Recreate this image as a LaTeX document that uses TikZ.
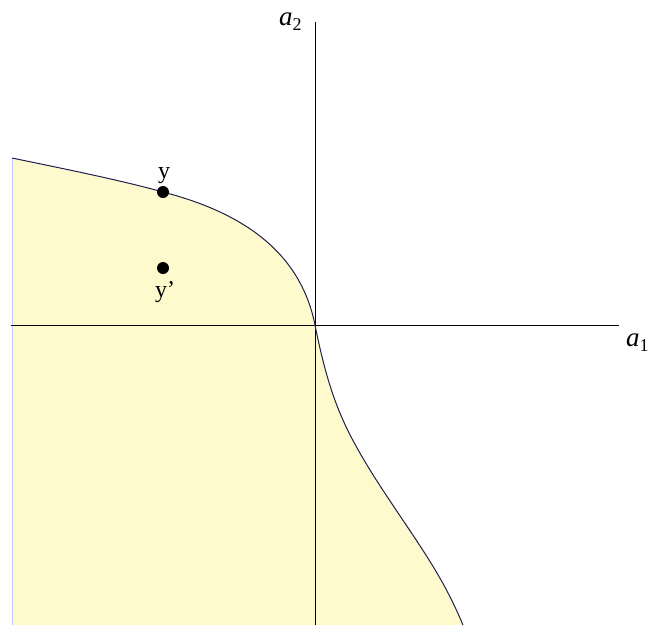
\documentclass[tikz,border=0pt]{standalone}
\usepackage{fontspec}
\setmainfont{Liberation Serif}
\definecolor{regionfill}{RGB}{255,250,205}
\definecolor{edgeblue}{RGB}{190,200,255}
\definecolor{curvenavy}{RGB}{30,30,80}
\begin{document}
\begin{tikzpicture}[x=1pt,y=-1pt,
  axis/.style={draw=black,line width=0.9pt},
  frontier/.style={draw=curvenavy,line width=1pt},
  pt/.style={circle,fill=black,inner sep=0pt,minimum size=12pt},
  lbl/.style={font=\fontsize{24}{26}\selectfont,inner sep=0pt,anchor=base},
  axlbl/.style={font=\fontsize{27}{28}\selectfont,inner sep=0pt,anchor=base west}]
\useasboundingbox (0,0) rectangle (651,625);
% region
\fill[regionfill] (12,158) .. controls (60,168) and (120,180) .. (163,192)
  .. controls (240,212) and (300,250) .. (315,325)
  .. controls (330,400) and (345,430) .. (375,478)
  .. controls (415,540) and (440,570) .. (463,625)
  -- (12,625) -- cycle;
\draw[edgeblue,line width=1pt] (12,158) -- (12,625);
% axes
\coordinate (xl) at (11,325);
\coordinate (xr) at (619,325);
\coordinate (yt) at (315,22);
\coordinate (yb) at (315,625);
\draw[axis] (xl) -- (xr);
\draw[axis] (yb) -- (yt);
\node[axlbl] (a2) at (279,25) {\textit{a}\raisebox{-5pt}{\fontsize{18}{18}\selectfont 2}};
\node[axlbl] (a1) at (626,346) {\textit{a}\raisebox{-5pt}{\fontsize{18}{18}\selectfont 1}};
% frontier
\draw[frontier] (12,158) .. controls (60,168) and (120,180) .. (163,192)
  .. controls (240,212) and (300,250) .. (315,325)
  .. controls (330,400) and (345,430) .. (375,478)
  .. controls (415,540) and (440,570) .. (463,625);
% points
\node[pt] (y) at (163,192) {};
\node[pt] (yp) at (163,268) {};
\node[lbl] (ylbl) at (164,178) {y};
\node[lbl] (yplbl) at (165,297) {y’};
\end{tikzpicture}
\end{document}
